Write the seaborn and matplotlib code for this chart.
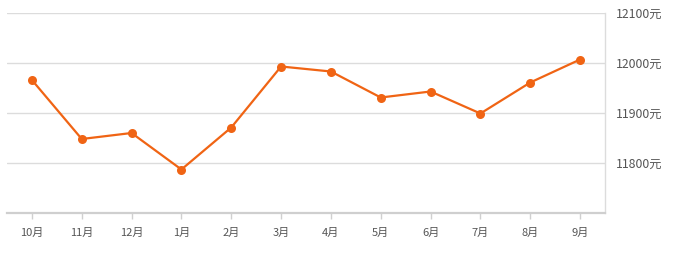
import matplotlib
matplotlib.use("Agg")
import matplotlib.pyplot as plt
import seaborn as sns
import pandas as pd

months = ["10月", "11月", "12月", "1月", "2月", "3月", "4月", "5月", "6月", "7月", "8月", "9月"]
prices = [11966, 11848, 11860, 11787, 11871, 11993, 11983, 11931, 11943, 11899, 11961, 12007]
y_ticks = [11800, 11900, 12000, 12100]
y_tick_labels = ["11800元", "11900元", "12000元", "12100元"]

sns.set_theme(style="white")
plt.rcParams['font.family'] = ['Noto Sans CJK SC', 'DejaVu Sans']

df = pd.DataFrame({"month": months, "price": prices})

W, H = 678, 256
fig = plt.figure(figsize=(W / 100, H / 100), dpi=100)
ax = fig.add_axes([7 / W, (H - 213) / H, (605 - 7) / W, 200 / H])

sns.lineplot(data=df, x="month", y="price", ax=ax, sort=False,
             color="#f06414", linewidth=1.6, marker="o", markersize=6.5,
             markeredgewidth=0, markerfacecolor="#f06414", zorder=3)

ax.set_xlim(-0.5, len(months) - 0.5)
ax.set_ylim(11700, 12100)
ax.set_yticks(y_ticks)
ax.set_yticklabels(y_tick_labels)
ax.yaxis.tick_right()
ax.grid(axis="y", color="#dcdcdc", linewidth=1)
ax.grid(axis="x", visible=False)
ax.set_xlabel("")
ax.set_ylabel("")

for s in ["left", "top"]:
    ax.spines[s].set_visible(False)
ax.spines["right"].set_color("#dcdcdc")
ax.spines["right"].set_linewidth(1)
ax.spines["bottom"].set_color("#cfcfcf")
ax.spines["bottom"].set_linewidth(1.6)

ax.tick_params(axis="x", bottom=True, length=4, width=1, color="#cfcfcf",
               labelsize=8, labelcolor="#555555", pad=7)
ax.tick_params(axis="y", right=False, left=False, length=0, labelsize=8.8,
               labelcolor="#555555", pad=8)

fig.savefig("out.png", dpi=100)
